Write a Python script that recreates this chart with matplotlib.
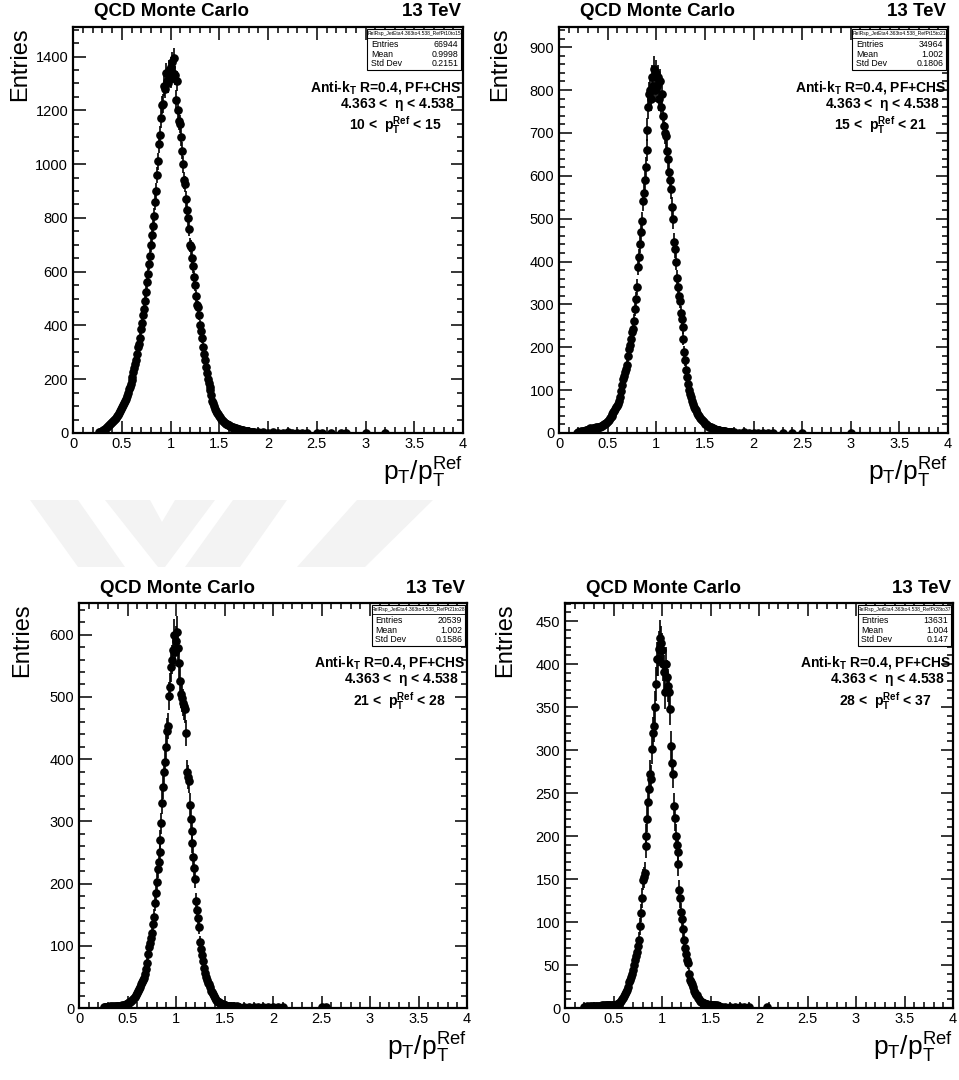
import numpy as np
import matplotlib
matplotlib.use("Agg")
import matplotlib.pyplot as plt
from matplotlib.patches import Rectangle, Polygon
from matplotlib.ticker import MultipleLocator, FuncFormatter

plt.rcParams['font.family'] = ['Liberation Sans', 'DejaVu Sans']
plt.rcParams['mathtext.fontset'] = 'custom'
plt.rcParams['mathtext.rm'] = 'Liberation Sans'
plt.rcParams['mathtext.it'] = 'Liberation Sans:italic'
plt.rcParams['mathtext.bf'] = 'Liberation Sans:bold'

BIN = 0.01

# pT 10-15
tl_x0 = 0.27
tl_counts = [
    2, 4, 5, 7, 10, 12, 15, 19, 22, 27,
    30, 33, 36, 40, 43, 47, 52, 56, 62, 68,
    74, 80, 88, 95, 103, 112, 118, 128, 138, 150,
    162, 170, 182, 196, 210, 228, 240, 258, 272, 292,
    318, 330, 355, 385, 410, 440, 462, 490, 525, 560,
    590, 630, 660, 700, 735, 770, 808, 860, 900, 960,
    1010, 1075, 1110, 1170, 1220, 1225, 1290, 1280, 1340, 1310,
    1300, 1350, 1330, 1360, 1320, 1380, 1340, 1395, 1330, 1240,
    1310, 1200, 1160, 1150, 1100, 1050, 1000, 940, 925, 870,
    830, 800, 760, 700, 690, 650, 620, 580, 550, 510,
    475, 470, 440, 400, 380, 355, 320, 295, 270, 245,
    222, 200, 185, 172, 160, 140, 120, 110, 100, 90,
    82, 75, 70, 64, 58, 52, 47, 44, 40, 37,
    34, 32, 30, 28, 26, 24, 22, 21, 20, 18,
    17, 16, 15, 14, 13, 12, 11, 10, 9, 8,
    7, 6, 6, 5, 5, 4, 4, 3, 3, 3,
]
tl_tail_x = [1.9, 1.95, 2.0, 2.05, 2.1, 2.15, 2.2, 2.25, 2.3, 2.35, 2.4, 2.5, 2.55, 2.65, 2.75, 2.8, 3.0, 3.2]
tl_tail_y = [2, 2, 1, 2, 1, 1, 2, 1, 1, 1, 1, 1, 1, 1, 1, 1, 1, 1]

# pT 15-21
tr_x0 = 0.19
tr_counts = [
    1, 2, 2, 3, 4, 3, 4, 5, 5, 6,
    7, 8, 10, 11, 9, 10, 12, 11, 12, 13,
    12, 14, 13, 15, 16, 17, 19, 20, 22, 24,
    26, 28, 30, 34, 37, 40, 44, 48, 52, 56,
    60, 64, 68, 75, 85, 98, 112, 125, 132, 142,
    150, 158, 180, 195, 205, 220, 235, 243, 262, 290,
    312, 340, 388, 410, 441, 470, 494, 540, 560, 589,
    620, 660, 707, 760, 790, 800, 780, 830, 810, 850,
    800, 840, 810, 830, 780, 820, 760, 790, 740, 715,
    700, 692, 658, 640, 608, 590, 570, 528, 498, 445,
    430, 400, 361, 340, 319, 308, 280, 265, 247, 220,
    190, 170, 148, 130, 114, 100, 90, 84, 75, 68,
    60, 55, 53, 47, 43, 40, 36, 33, 30, 27,
    25, 22, 20, 18, 16, 15, 14, 13, 12, 11,
    10, 9, 8, 8, 7, 6, 6, 5, 5, 5,
    4, 4, 4, 3, 3, 3, 2, 2, 2, 2,
]
tr_tail_x = [1.8, 1.85, 1.9, 1.95, 2.0, 2.05, 2.1, 2.15, 2.2, 2.3, 2.4, 2.5, 3.0]
tr_tail_y = [2, 1, 2, 1, 1, 1, 1, 1, 1, 1, 1, 1, 1]

# pT 21-28
bl_x0 = 0.26
bl_counts = [
    1, 1, 2, 1, 2, 2, 3, 2, 3, 2,
    3, 2, 3, 4, 3, 4, 3, 4, 5, 4,
    5, 5, 6, 6, 7, 8, 9, 10, 11, 13,
    14, 16, 18, 21, 24, 27, 30, 34, 38, 42,
    45, 49, 55, 63, 72, 87, 98, 104, 112, 120,
    135, 147, 169, 185, 202, 224, 235, 251, 270, 297,
    330, 355, 380, 396, 420, 445, 453, 502, 516, 548,
    560, 576, 600, 573, 590, 605, 578, 554, 526, 505,
    498, 491, 485, 480, 442, 379, 372, 365, 327, 303,
    284, 265, 243, 225, 207, 172, 158, 145, 131, 106,
    95, 85, 76, 65, 57, 50, 45, 40, 38, 33,
    28, 25, 22, 19, 16, 13, 11, 10, 9, 8,
    7, 6, 6, 5, 5, 5, 4, 4, 4, 3,
    3, 3, 3, 2, 3, 2, 2, 3, 2, 2,
]
bl_tail_x = [1.7, 1.75, 1.8, 1.85, 1.9, 1.95, 2.0, 2.05, 2.1, 2.5, 2.55]
bl_tail_y = [2, 1, 2, 1, 1, 1, 1, 1, 1, 1, 1]

# pT 28-37
br_x0 = 0.20
br_counts = [
    1, 1, 1, 2, 1, 1, 2, 1, 2, 1,
    2, 1, 2, 2, 1, 2, 2, 2, 3, 2,
    3, 2, 3, 3, 4, 3, 3, 2, 3, 3,
    3, 4, 3, 4, 5, 5, 6, 7, 8, 10,
    12, 14, 16, 19, 21, 25, 30, 33, 36, 40,
    44, 50, 56, 60, 65, 72, 79, 95, 110, 128,
    149, 152, 157, 188, 200, 220, 239, 255, 272, 266,
    301, 320, 328, 350, 377, 406, 406, 418, 430, 424,
    416, 400, 391, 367, 400, 385, 375, 367, 348, 305,
    285, 272, 235, 221, 200, 190, 182, 167, 137, 128,
    112, 104, 92, 79, 70, 63, 56, 52, 40, 32,
    30, 28, 24, 20, 17, 15, 15, 12, 10, 8,
    7, 7, 6, 6, 5, 5, 5, 4, 4, 4,
    4, 3, 3, 3, 3, 3, 2, 3, 2, 2,
]
br_tail_x = [1.62, 1.65, 1.7, 1.75, 1.8, 1.85, 1.9, 2.08]
br_tail_y = [1, 1, 1, 1, 1, 1, 1, 1]

panels = [
    # x0, counts, tail x, tail y, ymax, major, minor, entries, mean, std, pt range, ylabel x
    (tl_x0, tl_counts, tl_tail_x, tl_tail_y, 1510, 200, 50, "66944", "0.9998", "0.2151", ("10", "15"), -0.136),
    (tr_x0, tr_counts, tr_tail_x, tr_tail_y, 947, 100, 20, "34964", "1.002", "0.1806", ("15", "21"), -0.152),
    (bl_x0, bl_counts, bl_tail_x, bl_tail_y, 651, 100, 20, "20539", "1.002", "0.1586", ("21", "28"), -0.147),
    (br_x0, br_counts, br_tail_x, br_tail_y, 471, 50, 10, "13631", "1.004", "0.147", ("28", "37"), -0.155),
]

W, H = 959, 1080
boxes = [(73, 463, 27, 433), (559, 948, 27, 433), (79, 467, 603, 1008), (565, 953, 603, 1008)]

fig = plt.figure(figsize=(W / 100, H / 100), dpi=100)

# faint watermark between the rows
wm = [
    [(30, 500), (78, 500), (125, 567), (78, 567)],
    [(105, 500), (150, 500), (162, 522), (175, 500), (215, 500), (165, 567), (158, 567)],
    [(233, 500), (287, 500), (240, 567), (185, 567)],
    [(357, 500), (433, 500), (365, 567), (297, 567)],
]
for poly in wm:
    pts = [(px / W, 1 - py / H) for px, py in poly]
    fig.add_artist(Polygon(pts, closed=True, transform=fig.transFigure,
                           facecolor='#f3f3f3', edgecolor='none', zorder=0))

for (x0, counts, tx, ty, ymax, major, minor, ent, mean, std, pt, ylx), (l, r, t, b) in zip(panels, boxes):
    ax = fig.add_axes([l / W, 1 - b / H, (r - l) / W, (b - t) / H])
    y = np.array(counts, dtype=float)
    x = np.round(x0 + BIN * np.arange(len(y)), 3)
    x = np.concatenate([x, tx])
    y = np.concatenate([y, ty])
    ax.errorbar(x, y, yerr=np.sqrt(y), fmt='o', color='black', ms=5.2,
                elinewidth=1.2, capsize=0, zorder=3)

    ax.set_xlim(0, 4)
    ax.set_ylim(0, ymax)
    ax.xaxis.set_major_locator(MultipleLocator(0.5))
    ax.xaxis.set_minor_locator(MultipleLocator(0.1))
    ax.yaxis.set_major_locator(MultipleLocator(major))
    ax.yaxis.set_minor_locator(MultipleLocator(minor))
    ax.xaxis.set_major_formatter(FuncFormatter(lambda v, p: '%g' % v))
    ax.tick_params(which='both', direction='in', top=True, right=True, labelsize=10.5, width=1.1)
    ax.tick_params(which='major', length=9)
    ax.tick_params(which='minor', length=4.5)
    ax.tick_params(axis='x', pad=3)
    for sp in ax.spines.values():
        sp.set_linewidth(1.6)

    ax.text(0.055, 1.037, 'QCD Monte Carlo', transform=ax.transAxes, ha='left', va='center',
            fontsize=13.5, fontweight='bold')
    ax.text(0.995, 1.037, '13 TeV', transform=ax.transAxes, ha='right', va='center',
            fontsize=13.5, fontweight='bold')
    ax.text(ylx, 1.0, 'Entries', transform=ax.transAxes, ha='center', va='top',
            rotation=90, fontsize=17)
    ax.text(1.0, -0.055, r'$\mathregular{p_T/p_T^{Ref}}$', transform=ax.transAxes,
            ha='right', va='top', fontsize=19)

    # stats box
    ax.add_patch(Rectangle((0.754, 0.894), 0.241, 0.101, transform=ax.transAxes,
                           facecolor='white', edgecolor='black', lw=0.8, zorder=5))
    ax.plot([0.754, 0.995], [0.973, 0.973], transform=ax.transAxes, color='black', lw=0.6, zorder=6)
    ax.text(0.8745, 0.984, 'RelRsp_JetEta4.363to4.538_RefPt%sto%s' % pt, transform=ax.transAxes,
            ha='center', va='center', fontsize=3.6, zorder=6)
    for yy, lab, val in [(0.956, 'Entries', ent), (0.933, 'Mean', mean), (0.911, 'Std Dev', std)]:
        ax.text(0.764, yy, lab, transform=ax.transAxes, ha='left', va='center', fontsize=6.3, zorder=6)
        ax.text(0.988, yy, val, transform=ax.transAxes, ha='right', va='center', fontsize=6.3, zorder=6)

    ax.text(0.997, 0.852, r'Anti-k$_\mathbf{T}$ R=0.4, PF+CHS', transform=ax.transAxes,
            ha='right', va='center', fontsize=10, fontweight='bold')
    ax.text(0.98, 0.81, r'4.363 <  $\mathbf{\eta}$ < 4.538', transform=ax.transAxes,
            ha='right', va='center', fontsize=10, fontweight='bold')
    ax.text(0.945, 0.758, r'%s <  $\mathbf{p_T^{Ref}}$ < %s' % pt, transform=ax.transAxes,
            ha='right', va='center', fontsize=10, fontweight='bold')

fig.savefig('out.png', dpi=100)
